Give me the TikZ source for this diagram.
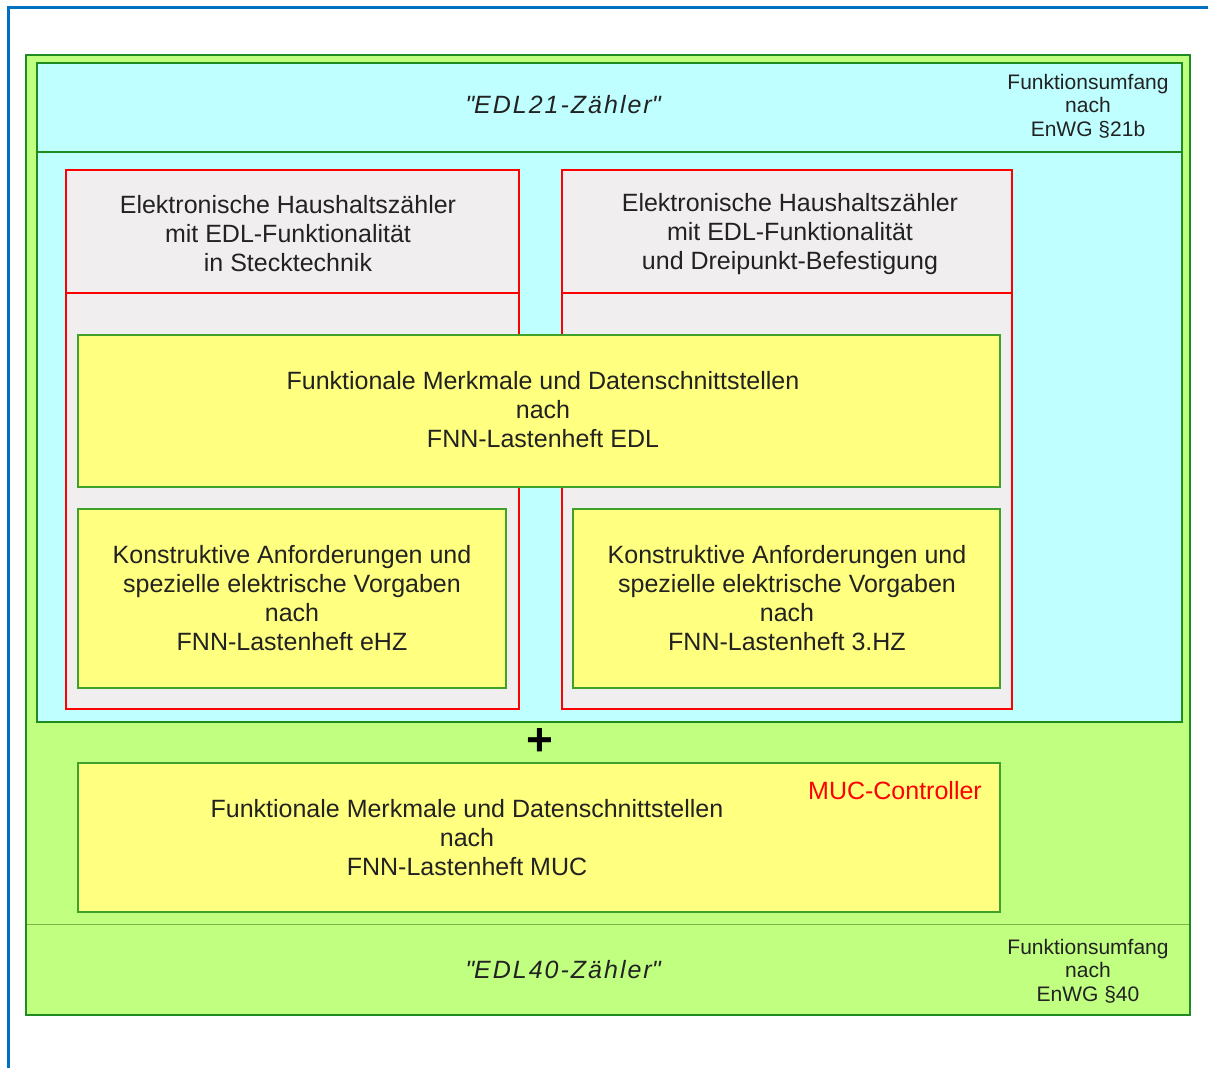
\documentclass[tikz,border=0pt]{standalone}
\usepackage{fontspec}
\setmainfont{Liberation Sans}
\usetikzlibrary{positioning}
\definecolor{frameblue}{HTML}{0070C0}
\definecolor{meadow}{HTML}{C0FF80}
\definecolor{pale cyan}{HTML}{C0FFFF}
\definecolor{darkgreen}{HTML}{1E8C1E}
\definecolor{olive line}{HTML}{7FB24A}
\definecolor{shellgray}{HTML}{F1EEF0}
\definecolor{lemon}{HTML}{FFFF80}
\definecolor{lemonedge}{HTML}{3FA02A}
\definecolor{inkgray}{HTML}{222222}
\tikzset{
  bigtxt/.style={align=center,text=inkgray,font=\fontsize{25}{29}\selectfont},
  smalltxt/.style={align=center,text=inkgray,font=\fontsize{21}{23.5}\selectfont},
  titletxt/.style={text=inkgray,font=\fontsize{25}{29}\selectfont\itshape\addfontfeature{LetterSpace=8}},
  greenline/.style={draw=darkgreen,line width=2pt},
  redshell/.style={draw=red,line width=1.6pt,fill=shellgray},
  lemonbox/.style={draw=lemonedge,line width=1.4pt,fill=lemon}
}
\begin{document}
\begin{tikzpicture}[x=1pt,y=-1pt]
\useasboundingbox (0,0) rectangle (1208,1068);
% page frame
\draw[frameblue,line width=3pt] (8.5,1068) -- (8.5,7.5) -- (1208,7.5);

% EDL40 area (green) and EDL21 area (cyan)
\draw[greenline,fill=meadow] (26,55) rectangle (1190,1015);
\draw[olive line,line width=1pt] (27,924) -- (1189,924);
\draw[greenline,fill=pale cyan] (37,63) rectangle (1182,722);
\draw[greenline] (37,152) -- (1182,152);

\node[titletxt] (edl21) at (563,105) {\textquotedbl EDL21-Zähler\textquotedbl};
\node[smalltxt] (scope21) at (1088,106) {Funktionsumfang\\nach\\EnWG §21b};
\node[titletxt] (edl40) at (563,970) {\textquotedbl EDL40-Zähler\textquotedbl};
\node[smalltxt] (scope40) at (1088,971) {Funktionsumfang\\nach\\EnWG §40};

% meter shells
\draw[redshell] (66,170) rectangle (519,709);
\draw[red,line width=1.6pt] (66,293) -- (519,293);
\draw[redshell] (562,170) rectangle (1012,709);
\draw[red,line width=1.6pt] (562,293) -- (1012,293);
\node[bigtxt] (stecktechnik) at (288,234) {Elektronische Haushaltszähler\\mit EDL-Funktionalität\\in Stecktechnik};
\node[bigtxt] (dreipunkt) at (790,234) {Elektronische Haushaltszähler\\mit EDL-Funktionalität\\und Dreipunkt-Befestigung};

% specifications
\draw[lemonbox] (78,335) rectangle (1000,487);
\node[bigtxt] (edlspec) at (543,410) {Funktionale Merkmale und Datenschnittstellen\\nach\\FNN-Lastenheft EDL};
\draw[lemonbox] (78,509) rectangle (506,688);
\node[bigtxt] (ehzspec) at (292,598) {Konstruktive Anforderungen und\\spezielle elektrische Vorgaben\\nach\\FNN-Lastenheft eHZ};
\draw[lemonbox] (573,509) rectangle (1000,688);
\node[bigtxt] (hzspec) at (787,598) {Konstruktive Anforderungen und\\spezielle elektrische Vorgaben\\nach\\FNN-Lastenheft 3.HZ};

\node[text=black,font=\fontsize{46}{46}\selectfont\bfseries] (plus) at (540,742) {+};

% MUC
\draw[lemonbox] (78,763) rectangle (1000,912);
\node[bigtxt] (mucspec) at (467,838) {Funktionale Merkmale und Datenschnittstellen\\nach\\FNN-Lastenheft MUC};
\node[bigtxt,text=red] (muc) at (895,791) {MUC-Controller};
\end{tikzpicture}
\end{document}
